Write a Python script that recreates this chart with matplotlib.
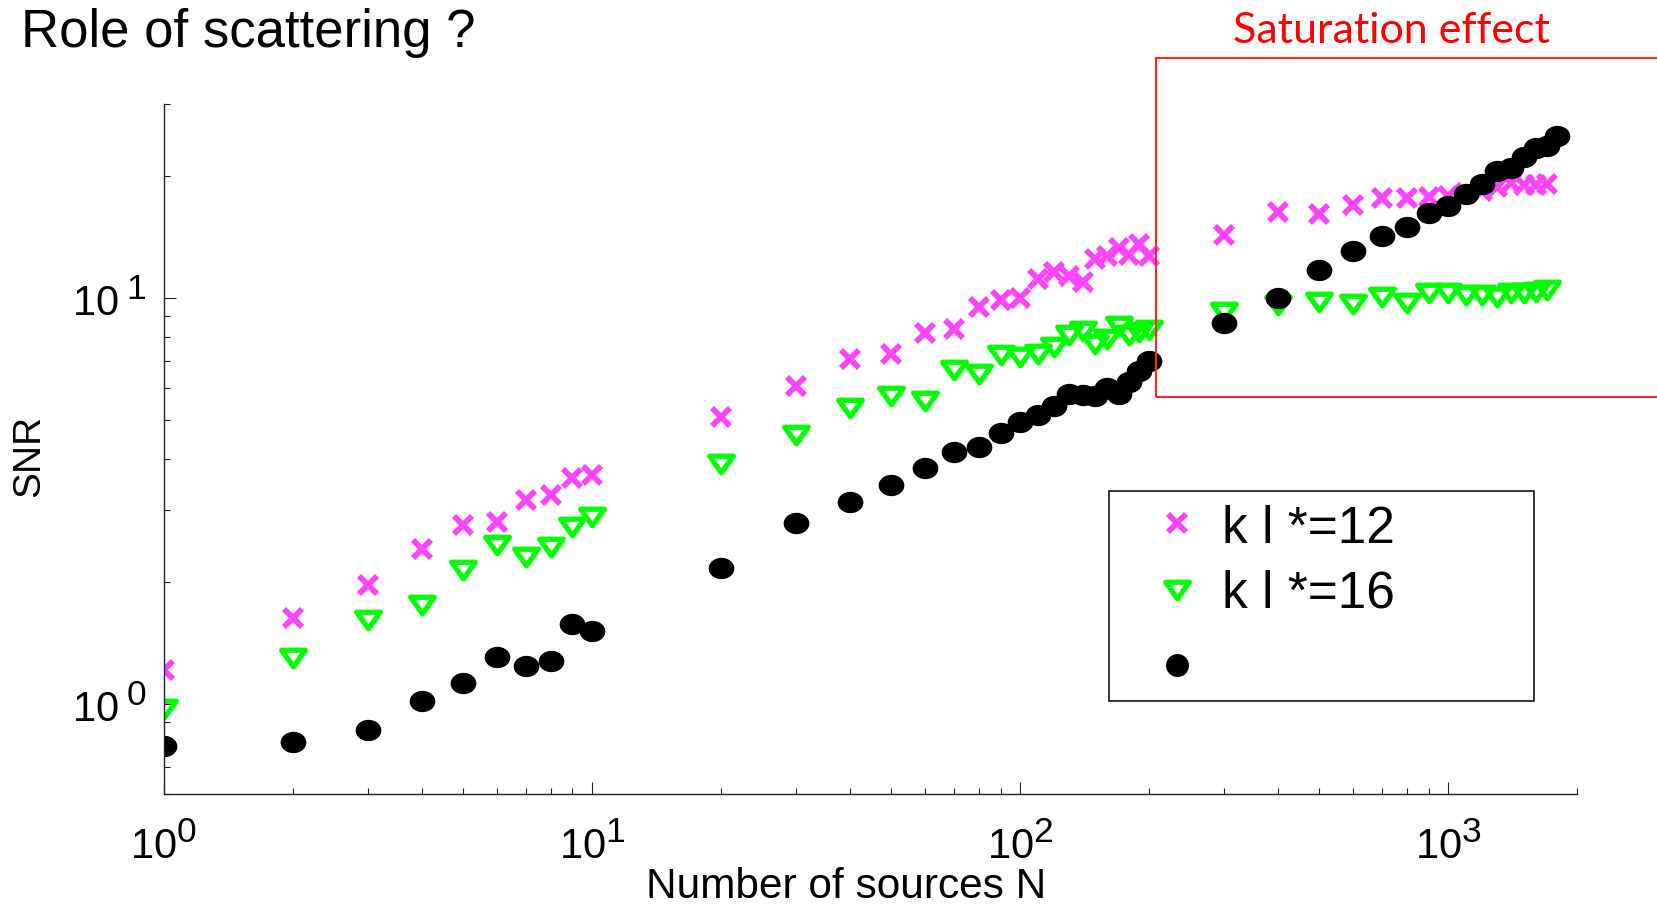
import matplotlib
matplotlib.use('Agg')
import matplotlib.pyplot as plt
from matplotlib.path import Path
from matplotlib.markers import MarkerStyle
from matplotlib.transforms import Affine2D
from matplotlib.patches import Rectangle
from matplotlib.lines import Line2D
import matplotlib.ticker as mticker
try:
    import matplotlib._mathtext as _mt
    _mt.SHRINK_FACTOR = 0.85
except Exception:
    pass

plt.rcParams['font.family'] = ['Liberation Sans', 'DejaVu Sans']
plt.rcParams['mathtext.fontset'] = 'custom'
plt.rcParams['mathtext.rm'] = 'Liberation Sans'
plt.rcParams['mathtext.it'] = 'Liberation Sans'
plt.rcParams['mathtext.bf'] = 'Liberation Sans'
plt.rcParams['mathtext.default'] = 'regular'

# ---------------- data ----------------
n_sources = [1, 2, 3, 4, 5, 6, 7, 8, 9, 10,
             20, 30, 40, 50, 60, 70, 80, 90, 100, 110, 120, 130, 140, 150, 160, 170, 180, 190, 200,
             300, 400, 500, 600, 700, 800, 900, 1000, 1100, 1200, 1300, 1400, 1500, 1600, 1700, 1800]

snr_kl12 = [1.21, 1.63, 1.96, 2.41, 2.76, 2.81, 3.18, 3.27, 3.60, 3.66,
            5.10, 6.05, 7.06, 7.28, 8.19, 8.40, 9.50, 9.89, 9.96, 11.1, 11.55, 11.3, 10.95, 12.45, 12.7,
            13.25, 12.76, 13.6, 12.7,
            14.3, 16.3, 16.1, 16.9, 17.6, 17.6, 17.7, 17.8, 18.1, 18.3, 18.7, 19.2, 18.9, 19.0, 19.1]

snr_kl16 = [0.972, 1.296, 1.61, 1.753, 2.14, 2.464, 2.306, 2.43, 2.73, 2.88,
            3.90, 4.59, 5.35, 5.72, 5.57, 6.63, 6.50, 7.24, 7.15, 7.25, 7.58, 8.10, 8.28, 7.68, 7.92,
            8.52, 8.10, 8.25, 8.34,
            9.20, 9.60, 9.76, 9.67, 10.04, 9.70, 10.26, 10.26, 10.17, 10.17, 10.06, 10.26, 10.30, 10.35, 10.46]

snr_third = [0.788, 0.806, 0.863, 1.017, 1.127, 1.303, 1.24, 1.278, 1.574, 1.513,
             2.16, 2.79, 3.14, 3.46, 3.82, 4.18, 4.30, 4.65, 4.94, 5.15, 5.40, 5.80, 5.75, 5.72, 6.00,
             5.80, 6.20, 6.60, 7.00,
             8.66, 9.98, 11.72, 13.0, 14.2, 14.9, 16.2, 16.8, 18.0, 19.1, 20.5, 20.9, 22.2, 23.4, 23.7, 25.0]

legend_labels = ['k l *=12', 'k l *=16', '']
x_tick_vals = [1, 10, 100, 1000]
x_tick_labels = [r'$10^{0}$', r'$10^{1}$', r'$10^{2}$', r'$10^{3}$']
y_tick_vals = [1, 10]
y_tick_labels = [r'$10^{\;0}$', r'$10^{\;1}$']

title_text = 'Role of scattering ?'
note_text = 'Saturation effect'

# ---------------- figure ----------------
W, H = 1657, 914
fig = plt.figure(figsize=(W / 100, H / 100), dpi=100)

def fx(px):
    return px / W

def fy(py):
    return 1 - py / H

ax_left, ax_right, ax_top, ax_bottom = 164, 1577, 104, 794
ax = fig.add_axes([fx(ax_left), fy(ax_bottom), (ax_right - ax_left) / W, (ax_bottom - ax_top) / H])

magenta = '#ff44ff'
green = '#00ff00'

ellipse = Path.unit_circle().transformed(Affine2D().scale(1.0, 0.83))
tri_path = Path([(-1, 0.70), (1, 0.70), (0, -0.70), (-1, 0.70)],
                [Path.MOVETO, Path.LINETO, Path.LINETO, Path.CLOSEPOLY])
tri_marker = MarkerStyle(tri_path, joinstyle='round')

n12 = n_sources[:len(snr_kl12)]
n16 = n_sources[:len(snr_kl16)]

ax.plot(n12, snr_kl12, linestyle='none', marker='x', markersize=12.5,
        markeredgewidth=4.2, color=magenta)
ax.plot(n16, snr_kl16, linestyle='none', marker=tri_marker, markersize=17,
        markeredgewidth=3.8, markerfacecolor='none', markeredgecolor=green)
ax.plot(n_sources, snr_third, linestyle='none', marker=MarkerStyle(ellipse), markersize=18.5,
        markeredgewidth=0, color='black')

ax.set_xscale('log')
ax.set_yscale('log')
ax.set_xlim(1, 2000)
ax.set_ylim(0.6, 30)

for s in ['top', 'right']:
    ax.spines[s].set_visible(False)
for s in ['left', 'bottom']:
    ax.spines[s].set_linewidth(1.0)
    ax.spines[s].set_color('#222222')

ax.set_xticks(x_tick_vals)
ax.set_xticklabels(x_tick_labels)
ax.set_yticks(y_tick_vals)
ax.set_yticklabels(y_tick_labels)
ax.xaxis.set_minor_locator(mticker.LogLocator(base=10, subs=range(2, 10), numticks=20))
ax.yaxis.set_minor_locator(mticker.LogLocator(base=10, subs=range(2, 10), numticks=20))
ax.xaxis.set_minor_formatter(mticker.NullFormatter())
ax.yaxis.set_minor_formatter(mticker.NullFormatter())

ax.tick_params(which='major', direction='in', length=8.5, width=0.8, color='#222222',
               labelsize=30)
ax.tick_params(which='minor', direction='in', length=4.3, width=0.8, color='#222222')
ax.tick_params(axis='x', which='major', pad=21)
ax.tick_params(axis='y', which='major', pad=12)

ax.set_xlabel('Number of sources N', fontsize=30.5, va='baseline')
ax.xaxis.set_label_coords((846 - ax_left) / (ax_right - ax_left), -(898 - ax_bottom) / (ax_bottom - ax_top))
ax.set_ylabel('SNR', fontsize=28, va='center')
ax.yaxis.set_label_coords(-(ax_left - 29) / (ax_right - ax_left), (ax_bottom - 456) / (ax_bottom - ax_top))

# title and annotation
fig.text(fx(21), fy(47), title_text, fontsize=38, ha='left', va='baseline')
fig.text(fx(1233), fy(43), note_text, fontsize=31, ha='left', va='baseline',
         color='#ff0000', family=['Lato', 'DejaVu Sans'])
fig.add_artist(Rectangle((fx(1156), fy(397)), fx(1720) - fx(1156), fy(58) - fy(397),
                         transform=fig.transFigure, fill=False, edgecolor='#ff2a1a',
                         linewidth=1.5, clip_on=False))

# legend (drawn manually to match the box geometry)
fig.add_artist(Rectangle((fx(1109), fy(701)), fx(1534) - fx(1109), fy(491) - fy(701),
                         transform=fig.transFigure, facecolor='white', edgecolor='black',
                         linewidth=1.1, zorder=5))
handle_x = fx(1177)
row_y = [523, 590, 665]
base_y = [543, 608, 683]
handles = [
    dict(marker='x', markersize=12.5, markeredgewidth=4.2, color=magenta),
    dict(marker=tri_marker, markersize=17, markeredgewidth=3.8, markerfacecolor='none',
         markeredgecolor=green),
    dict(marker='o', markersize=16.5, markeredgewidth=0, color='black'),
]
for ry, by, hd, lab in zip(row_y, base_y, handles, legend_labels):
    fig.add_artist(Line2D([handle_x], [fy(ry)], transform=fig.transFigure, linestyle='none',
                          zorder=6, **hd))
    if lab:
        fig.text(fx(1222), fy(by), lab, fontsize=37, ha='left', va='baseline', zorder=6)

fig.savefig('out.png', dpi=100)
